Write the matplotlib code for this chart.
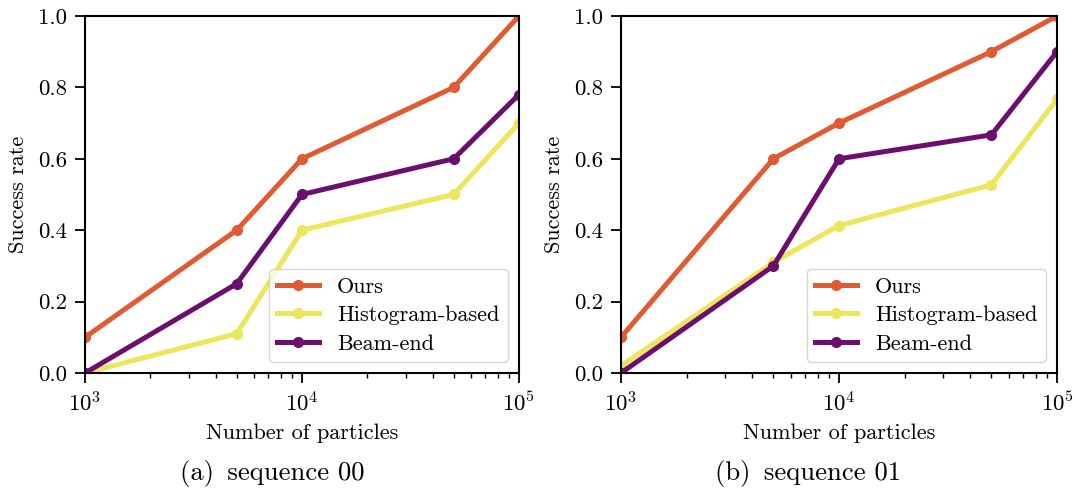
import matplotlib
matplotlib.use("Agg")
import matplotlib.pyplot as plt

plt.rcParams["font.family"] = "serif"
plt.rcParams["font.serif"] = ["cmr10", "DejaVu Serif"]
plt.rcParams["mathtext.fontset"] = "cm"
plt.rcParams["axes.formatter.use_mathtext"] = True
plt.rcParams["axes.unicode_minus"] = False

particles = [1000, 5000, 10000, 50000, 100000]
series_names = ["Ours", "Histogram-based", "Beam-end"]
colors = ["#e05a32", "#ebe65c", "#6b0f6e"]

seq00_ours = [0.1, 0.4, 0.6, 0.8, 1.0]
seq00_hist = [0.0, 0.11, 0.4, 0.5, 0.7]
seq00_beam = [0.0, 0.25, 0.5, 0.6, 0.78]

seq01_ours = [0.1, 0.6, 0.7, 0.9, 1.0]
seq01_hist = [0.02, 0.31, 0.413, 0.527, 0.767]
seq01_beam = [0.0, 0.3, 0.6, 0.667, 0.9]

captions = ["(a)\u2002sequence 00", "(b)\u2002sequence 01"]

fig = plt.figure(figsize=(10.75, 4.88), dpi=100)
ax1 = fig.add_axes([0.0791, 0.2357, 0.4037, 0.7316])
ax2 = fig.add_axes([0.5777, 0.2357, 0.4056, 0.7316])

# captions are centred on each half of the figure (sub-figure style)
cap_x = [0.253, 0.752]

for ax, data, cap, cx in [(ax1, [seq00_ours, seq00_hist, seq00_beam], captions[0], cap_x[0]),
                          (ax2, [seq01_ours, seq01_hist, seq01_beam], captions[1], cap_x[1])]:
    for vals, name, c in zip(data, series_names, colors):
        ax.plot(particles, vals, color=c, lw=3.6, marker="o", ms=7, label=name)
    ax.set_xscale("log")
    ax.set_xlim(1000, 100000)
    ax.set_ylim(0, 1)
    ax.set_yticks([0, 0.2, 0.4, 0.6, 0.8, 1.0])
    ax.set_yticklabels(["0.0", "0.2", "0.4", "0.6", "0.8", "1.0"])
    ax.tick_params(labelsize=16.5, width=1.3, length=7, pad=6)
    ax.tick_params(which="minor", width=1.0, length=3.5)
    for s in ax.spines.values():
        s.set_linewidth(1.5)
    ax.set_xlabel("Number of particles", fontsize=16, labelpad=6)
    ax.set_ylabel("Success rate", fontsize=16, labelpad=7)
    ax.legend(loc="lower right", fontsize=16, borderpad=0.37, handlelength=1.9,
              handletextpad=0.8, labelspacing=0.4)
    fig.text(cx, 0.03, cap, ha="center", va="center", fontsize=19.2,
             family=["cmr10", "DejaVu Serif"])

fig.savefig("out.png", dpi=100)
